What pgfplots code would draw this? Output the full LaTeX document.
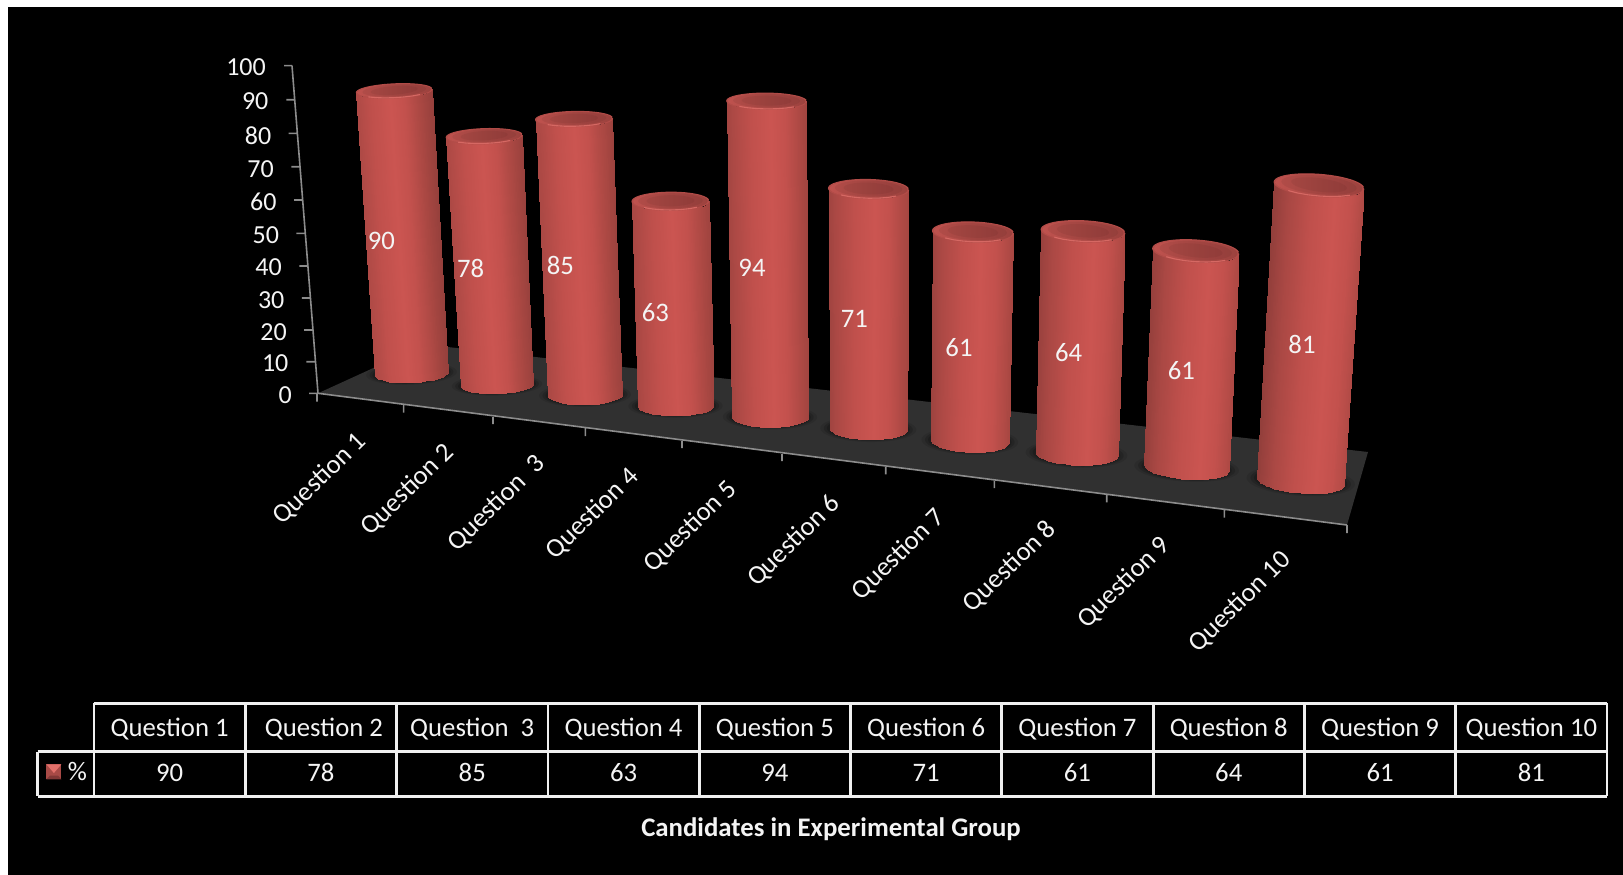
\documentclass[border=0pt]{standalone}
\usepackage{fontspec}
\setmainfont{Carlito}
\usepackage{pgfplots}
\usepackage{pgfplotstable}
\pgfplotsset{compat=1.18}

\definecolor{axisgray}{HTML}{8C8C8C}
\definecolor{floorgray}{HTML}{303030}
\definecolor{inktext}{HTML}{F4F4F4}
\definecolor{tablegrid}{HTML}{F0F0F0}
\definecolor{capleft}{RGB}{190,82,78}
\definecolor{capright}{RGB}{156,66,62}
\definecolor{capedge}{RGB}{178,76,72}
\definecolor{caprim}{RGB}{214,104,99}

\tikzset{lab/.style={text=inktext, inner sep=0pt, font=\fontsize{26.7}{30}\selectfont},
         tick/.style={text=inktext, inner sep=0pt, font=\fontsize{26}{30}\selectfont, anchor=east}}

% One row per question: value, foot of the column on the floor, the rise for 100 %
% (perspective makes it differ along the row), radii, tilt of the ellipses,
% position of the highlight and of the value label.
\pgfplotstableread{
val   bx      by     dx     dy    rb    rt    ryb   ryt   tl    sh     lx      ly
90    411.5   373.5  -19.2  314   36.5  37.8  9.0   7.0   -1.7  -0.10  381.4   240.7
78    497.0   385.0  -16.4  319   36.4  37.9  8.5   7.5   -1.2  -0.05  470.7   268.7
85    585.0   395.0  -12.9  324.7 37.0  38.4  9.5   7.5   -0.7   0.00  560.4   265.7
63    675.5   406.0  -8.0   325   38.0  38.4  9.5   9.0   -0.2   0.05  655.4   312.7
94    770.0   417.0  -3.6   336   38.0  39.8  10.0  8.0    0.3   0.10  752.0   267.7
71    868.3   429.0   0.4   338   38.7  40.0  10.5  9.5    0.8   0.15  854.3   318.7
61    969.8   441.0   5.2   342.6 39.0  40.4  11.0  10.0   1.3   0.20  959.0   347.7
64    1076.5  454.0   10.2  348   41.0  41.8  11.0  10.5   1.8   0.25  1068.6  352.7
61    1186.6  468.0   15.0  355.7 42.2  43.0  11.0  11.0   2.6   0.30  1181.4  370.7
81    1300.7  481.0   22.6  365   43.7  44.8  12.0  11.0   3.3   0.35  1302.0  344.3
}\bars

% Unit ellipse
\pgfplotstableread{
u v
1 0
.9914 .1305
.9659 .2588
.9239 .3827
.8660 .5
.7934 .6088
.7071 .7071
.6088 .7934
.5 .8660
.3827 .9239
.2588 .9659
.1305 .9914
0 1
-.1305 .9914
-.2588 .9659
-.3827 .9239
-.5 .8660
-.6088 .7934
-.7071 .7071
-.7934 .6088
-.8660 .5
-.9239 .3827
-.9659 .2588
-.9914 .1305
-1 0
-.9914 -.1305
-.9659 -.2588
-.9239 -.3827
-.8660 -.5
-.7934 -.6088
-.7071 -.7071
-.6088 -.7934
-.5 -.8660
-.3827 -.9239
-.2588 -.9659
-.1305 -.9914
0 -1
.1305 -.9914
.2588 -.9659
.3827 -.9239
.5 -.8660
.6088 -.7934
.7071 -.7071
.7934 -.6088
.8660 -.5
.9239 -.3827
.9659 -.2588
.9914 -.1305
}\ring

% Central part of the front of the unit ellipse
\pgfplotstableread{
u v
.7071 .7071
.5 .8660
.2588 .9659
0 1
-.2588 .9659
-.5 .8660
-.7071 .7071
}\rim

% Visible side of a unit cylinder: two scanlines, foot (h=0) and top (h=1)
\pgfplotstableread{
u v h
-1 0 0
-.9914 .1305 0
-.9659 .2588 0
-.9239 .3827 0
-.8660 .5 0
-.7934 .6088 0
-.7071 .7071 0
-.6088 .7934 0
-.5 .8660 0
-.3827 .9239 0
-.2588 .9659 0
-.1305 .9914 0
0 1 0
.1305 .9914 0
.2588 .9659 0
.3827 .9239 0
.5 .8660 0
.6088 .7934 0
.7071 .7071 0
.7934 .6088 0
.8660 .5 0
.9239 .3827 0
.9659 .2588 0
.9914 .1305 0
1 0 0
-1 0 1
-.9914 .1305 1
-.9659 .2588 1
-.9239 .3827 1
-.8660 .5 1
-.7934 .6088 1
-.7071 .7071 1
-.6088 .7934 1
-.5 .8660 1
-.3827 .9239 1
-.2588 .9659 1
-.1305 .9914 1
0 1 1
.1305 .9914 1
.2588 .9659 1
.3827 .9239 1
.5 .8660 1
.6088 .7934 1
.7071 .7071 1
.7934 .6088 1
.8660 .5 1
.9239 .3827 1
.9659 .2588 1
.9914 .1305 1
1 0 1
}\side

\newcommand\getrow[1]{%
  \pgfplotstablegetelem{#1}{val}\of\bars\let\bVal\pgfplotsretval
  \pgfplotstablegetelem{#1}{bx}\of\bars\let\bX\pgfplotsretval
  \pgfplotstablegetelem{#1}{by}\of\bars\let\bY\pgfplotsretval
  \pgfplotstablegetelem{#1}{dx}\of\bars\let\bDx\pgfplotsretval
  \pgfplotstablegetelem{#1}{dy}\of\bars\let\bDy\pgfplotsretval
  \pgfplotstablegetelem{#1}{rb}\of\bars\let\bRb\pgfplotsretval
  \pgfplotstablegetelem{#1}{rt}\of\bars\let\bRt\pgfplotsretval
  \pgfplotstablegetelem{#1}{ryb}\of\bars\let\bRyb\pgfplotsretval
  \pgfplotstablegetelem{#1}{ryt}\of\bars\let\bRyt\pgfplotsretval
  \pgfplotstablegetelem{#1}{tl}\of\bars\let\bTl\pgfplotsretval
  \pgfplotstablegetelem{#1}{sh}\of\bars\let\bSh\pgfplotsretval
  \pgfplotstablegetelem{#1}{lx}\of\bars\let\bLx\pgfplotsretval
  \pgfplotstablegetelem{#1}{ly}\of\bars\let\bLy\pgfplotsretval
}

% Ellipse on the top of the current column; #1 scale, #2 vertical shift, #3 style, #4 outline table
\newcommand\topellipse[4]{%
  \addplot[#3] table[
    x expr={\bX+\bVal/100*\bDx+#1*\bRt*\thisrow{u}},
    y expr={\bY-\bVal/100*\bDy+#2+#1*\bRyt*\thisrow{v}+\bTl*\thisrow{u}}] {#4};
}
% Ellipse around the foot of the current column; #1 scale, #2 style
\newcommand\footellipse[2]{%
  \addplot[#2] table[
    x expr={\bX+#1*\bRb*\thisrow{u}},
    y expr={\bY+#1*\bRyb*\thisrow{v}+\bTl*\thisrow{u}}] {\ring};
}

\newcommand\catname[1]{\ifcase#1 Question 1\or Question 2\or Question\ \ 3\or Question 4\or Question 5\or Question 6\or Question 7\or Question 8\or Question 9\or Question 10\fi}

\begin{document}
\begin{tikzpicture}
\begin{axis}[
  scale only axis, width=1623pt, height=875pt,
  xmin=0, xmax=1623, ymin=0, ymax=875, y dir=reverse,
  hide axis, enlargelimits=false,
  colormap={columnred}{
    rgb255(0pt)=(130,56,53) rgb255(6pt)=(170,72,68) rgb255(11pt)=(192,80,76)
    rgb255(16pt)=(203,85,81) rgb255(19.5pt)=(195,81,77) rgb255(24pt)=(168,71,66)
    rgb255(27pt)=(150,64,60) rgb255(32pt)=(130,56,53)},
  colormap name=columnred,
  point meta min=-1.6, point meta max=1.6,
]
% page ground
\addplot[fill=white, draw=none] coordinates {(0,0)(1623,0)(1623,875)(0,875)};
\addplot[fill=black, draw=none] coordinates {(7.5,7)(1623,7)(1623,875)(7.5,875)};

% floor
\addplot[fill=floorgray, draw=none] coordinates {(318,393.3)(425,344.4)(1368,452)(1347,525)};
\addplot[draw=axisgray, line width=1.6pt, unbounded coords=jump] coordinates {
  (318,393.3)(1347,525) (nan,nan)
  (292,65.7)(318,393.3) (nan,nan)
  (317,393.3)(317,401.7) (nan,nan)
  (403.6,405)(403.6,412.7) (nan,nan)
  (493,417)(493,424) (nan,nan)
  (585.4,428.5)(585.4,436) (nan,nan)
  (682,441)(682,448) (nan,nan)
  (782,454)(782,461) (nan,nan)
  (885.7,467)(885.7,474.3) (nan,nan)
  (994.3,481)(994.3,488) (nan,nan)
  (1106.7,495)(1106.7,502.3) (nan,nan)
  (1224.4,510)(1224.4,517.7) (nan,nan)
  (1347,525)(1347,533) (nan,nan)
  (284,65.7)(292,65.7) (nan,nan)
  (286.4,99.7)(295,99.7) (nan,nan)
  (288.6,133.3)(297.5,133.3) (nan,nan)
  (291.4,166.7)(300,166.7) (nan,nan)
  (294,200)(302.9,200) (nan,nan)
  (296.4,233.3)(305.4,233.3) (nan,nan)
  (299.3,266)(307.9,266) (nan,nan)
  (301.8,298)(310.7,298) (nan,nan)
  (304,330)(313.2,330) (nan,nan)
  (306.4,361.7)(315.4,361.7) (nan,nan)
  (309,393.3)(318,393.3)
};

% value axis numbers
\node[tick] at (axis cs:266,67.3) {100};
\node[tick] at (axis cs:268.6,100.7) {90};
\node[tick] at (axis cs:271.4,135.3) {80};
\node[tick] at (axis cs:274,168.7) {70};
\node[tick] at (axis cs:276.8,201.7) {60};
\node[tick] at (axis cs:279.3,235) {50};
\node[tick] at (axis cs:282,267.3) {40};
\node[tick] at (axis cs:284.6,300) {30};
\node[tick] at (axis cs:287,331.7) {20};
\node[tick] at (axis cs:288.6,363) {10};
\node[tick] at (axis cs:292,395) {0};

% soft shadows on the floor
\pgfplotsinvokeforeach{0,...,9}{
  \getrow{#1}
  \footellipse{1.24}{fill=black, fill opacity=.10, draw=none}
  \footellipse{1.15}{fill=black, fill opacity=.14, draw=none}
  \footellipse{1.07}{fill=black, fill opacity=.18, draw=none}
}

% columns
\pgfplotsinvokeforeach{0,...,9}{
  \getrow{#1}
  \addplot[surf, shader=interp, mesh/rows=2, mesh/cols=25,
    point meta={\thisrow{u}-\bSh}]
    table[
      x expr={\bX+\thisrow{h}*\bVal/100*\bDx+(\bRb+\thisrow{h}*(\bRt-\bRb))*\thisrow{u}},
      y expr={\bY-\thisrow{h}*\bVal/100*\bDy+(\bRyb+\thisrow{h}*(\bRyt-\bRyb))*\thisrow{v}+\bTl*\thisrow{u}}
    ] {\side};
  \topellipse{1}{0}{fill=capedge, draw=capedge, line width=1.2pt}{\ring}
  \topellipse{.97}{0}{left color=capleft, right color=capright, draw=none}{\ring}
  \topellipse{.84}{-.5}{fill=black, fill opacity=.06, draw=none}{\ring}
  \topellipse{.62}{-.5}{fill=black, fill opacity=.05, draw=none}{\ring}
  \topellipse{.97}{0}{draw=caprim, line width=1.1pt}{\rim}
  \edef\tmp{\noexpand\node[lab] at (axis cs:\bLx,\bLy) {\bVal};}\tmp
}

% slanted category names
\node[lab,rotate=44.5] at (axis cs:319.7,479) {\catname{0}};
\node[lab,rotate=44.5] at (axis cs:407.5,490) {\catname{1}};
\node[lab,rotate=44.5] at (axis cs:496.3,503.5) {\catname{2}};
\node[lab,rotate=44.5] at (axis cs:592.5,513.7) {\catname{3}};
\node[lab,rotate=44.5] at (axis cs:690.5,526.5) {\catname{4}};
\node[lab,rotate=44.5] at (axis cs:794,541) {\catname{5}};
\node[lab,rotate=44.5] at (axis cs:898.5,554.7) {\catname{6}};
\node[lab,rotate=44.5] at (axis cs:1009.7,566.6) {\catname{7}};
\node[lab,rotate=44.5] at (axis cs:1124,582.6) {\catname{8}};
\node[lab,rotate=44.5] at (axis cs:1240,602) {\catname{9}};

% data table
\addplot[draw=tablegrid, line width=2.8pt, unbounded coords=jump] coordinates {
  (94,703.3)(1607,703.3) (nan,nan)
  (37.5,751.7)(1607,751.7) (nan,nan)
  (37.5,796.3)(1607,796.3) (nan,nan)
  (37.5,751.7)(37.5,796.3) (nan,nan)
  (94,703.3)(94,796.3) (nan,nan)
  (245.3,703.3)(245.3,796.3) (nan,nan)
  (396.6,703.3)(396.6,796.3) (nan,nan)
  (547.9,703.3)(547.9,796.3) (nan,nan)
  (699.2,703.3)(699.2,796.3) (nan,nan)
  (850.5,703.3)(850.5,796.3) (nan,nan)
  (1001.8,703.3)(1001.8,796.3) (nan,nan)
  (1153.1,703.3)(1153.1,796.3) (nan,nan)
  (1304.4,703.3)(1304.4,796.3) (nan,nan)
  (1455.7,703.3)(1455.7,796.3) (nan,nan)
  (1607,703.3)(1607,796.3)
};
\pgfplotsinvokeforeach{0,...,9}{
  \getrow{#1}
  \pgfmathsetmacro\cellx{94+151.3*(#1+.5)}
  \pgfmathsetmacro\headx{\cellx+(#1==1)*3}
  \edef\tmp{\noexpand\node[lab] at (axis cs:\headx,729.2) {\noexpand\catname{#1}};
            \noexpand\node[lab] at (axis cs:\cellx,772.8) {\bVal};}\tmp
}

% legend key
\addplot[fill={rgb,255:red,168;green,74;blue,70}, draw=none] coordinates {(46.4,764.3)(61.4,764.3)(61.4,779.3)(46.4,779.3)};
\addplot[fill={rgb,255:red,130;green,56;blue,54}, draw=none] coordinates {(46.4,779.3)(61.4,779.3)(58,775.5)(50,775.5)};
\addplot[fill={rgb,255:red,226;green,112;blue,106}, draw=none] coordinates {(46.4,764.3)(61.4,764.3)(53.9,773)};
\node[lab] at (axis cs:77.5,771.7) {\%};

\node[lab,font=\fontsize{26.8}{30}\selectfont\bfseries] at (axis cs:831,829.5) {Candidates in Experimental Group};
\end{axis}
\end{tikzpicture}
\end{document}
